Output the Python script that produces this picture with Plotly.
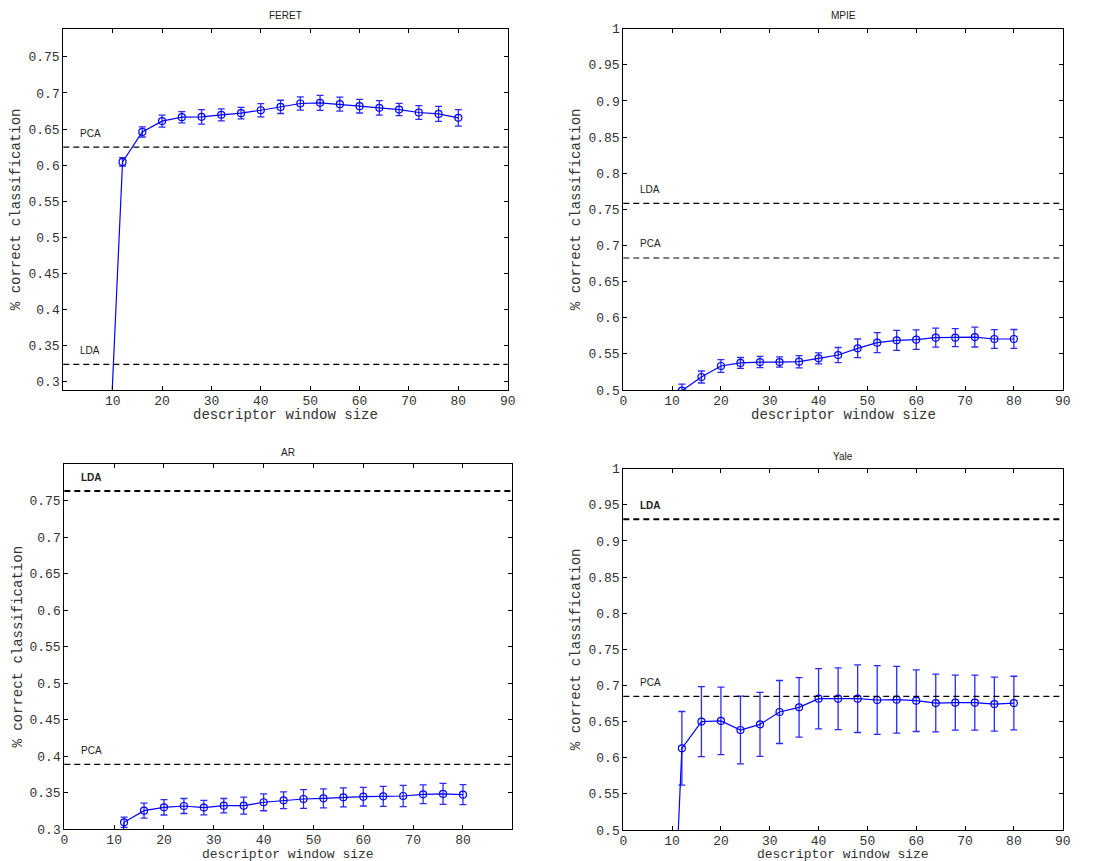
import plotly.graph_objects as go

# ---------------- data ----------------
window_sizes = [8, 12, 16, 20, 24, 28, 32, 36, 40, 44, 48, 52, 56, 60, 64, 68, 72, 76, 80]

feret_acc = [0.0, 0.6045, 0.646, 0.661, 0.6664, 0.6669, 0.6697, 0.672, 0.676, 0.6807,
             0.6854, 0.6863, 0.6844, 0.6817, 0.6794, 0.677, 0.6729, 0.671, 0.6655]
feret_err = [0.0, 0.006, 0.007, 0.0083, 0.0078, 0.010, 0.0083, 0.008, 0.0092, 0.0092,
             0.0092, 0.0104, 0.0097, 0.0095, 0.010, 0.0085, 0.0095, 0.0104, 0.0115]
feret_pca = 0.6249
feret_lda = 0.3239

mpie_acc = [0.0, 0.499, 0.518, 0.5332, 0.5374, 0.5387, 0.5387, 0.5392, 0.5438, 0.5484,
            0.5577, 0.5655, 0.5687, 0.5697, 0.5724, 0.5724, 0.5733, 0.5706, 0.5706]
mpie_err = [0.0, 0.009, 0.0083, 0.0088, 0.0076, 0.0078, 0.0071, 0.0085, 0.0076, 0.0104,
            0.0129, 0.0138, 0.0138, 0.0136, 0.0131, 0.0125, 0.0138, 0.0129, 0.0131]
mpie_pca = 0.6827
mpie_lda = 0.7583

ar_acc = [0.0, 0.3096, 0.3255, 0.3301, 0.3319, 0.3297, 0.3324, 0.3324, 0.337, 0.3397,
          0.3415, 0.3424, 0.3438, 0.3447, 0.3452, 0.3456, 0.3479, 0.3484, 0.3474]
ar_err = [0.0, 0.0071, 0.0103, 0.0105, 0.0103, 0.010, 0.0098, 0.0116, 0.0116, 0.0114,
          0.0128, 0.013, 0.013, 0.0128, 0.0137, 0.0146, 0.0128, 0.0144, 0.0137]
ar_pca = 0.389
ar_lda = 0.763

yale_acc = [0.0, 0.613, 0.650, 0.651, 0.6384, 0.6462, 0.6633, 0.6697, 0.6817, 0.6817,
            0.6817, 0.6799, 0.6803, 0.679, 0.6757, 0.6762, 0.6762, 0.6743, 0.6757]
yale_err = [0.0, 0.051, 0.0484, 0.0466, 0.047, 0.0443, 0.0436, 0.0413, 0.0417, 0.0427,
            0.0468, 0.0475, 0.0461, 0.0427, 0.040, 0.038, 0.038, 0.0374, 0.0371]
yale_pca = 0.685
yale_lda = 0.930

titles = ["FERET", "MPIE", "AR", "Yale"]
x_title = "descriptor window size"
y_title = "% correct classification"

feret_xticks = [10, 20, 30, 40, 50, 60, 70, 80, 90]
full_xticks = [0, 10, 20, 30, 40, 50, 60, 70, 80, 90]
ar_xticks = [0, 10, 20, 30, 40, 50, 60, 70, 80]
low_yticks = [0.3, 0.35, 0.4, 0.45, 0.5, 0.55, 0.6, 0.65, 0.7, 0.75]
low_yticktext = ["0.3", "0.35", "0.4", "0.45", "0.5", "0.55", "0.6", "0.65", "0.7", "0.75"]
high_yticks = [0.5, 0.55, 0.6, 0.65, 0.7, 0.75, 0.8, 0.85, 0.9, 0.95, 1.0]
high_yticktext = ["0.5", "0.55", "0.6", "0.65", "0.7", "0.75", "0.8", "0.85", "0.9", "0.95", "1"]

# ---------------- layout geometry ----------------
W, H = 1096, 861
BLUE = "#0000ff"
ERRBLUE = "#2b2bff"
TICKFONT = dict(family="Liberation Mono, Courier New, monospace", size=13, color="#333333")
LABELFONT = dict(family="Liberation Mono, Courier New, monospace", size=14, color="#333333")
LABELFONT_LOW = dict(family="Liberation Mono, Courier New, monospace", size=13, color="#333333")
SMALLFONT = dict(family="Liberation Sans, Arial, sans-serif", size=10, color="#222222")

panels = [
    dict(acc=feret_acc, err=feret_err, pca=feret_pca, lda=feret_lda,
         box=(63.3, 507.7, 28.7, 390.0), xr=[0, 90], yr=[0.2885, 0.789],
         xt=feret_xticks, yt=low_yticks, ytt=low_yticktext, bold=False, title_y=16,
         bottom=False),
    dict(acc=mpie_acc, err=mpie_err, pca=mpie_pca, lda=mpie_lda,
         box=(623.3, 1062.7, 28.7, 390.0), xr=[0, 90], yr=[0.5, 1.0],
         xt=full_xticks, yt=high_yticks, ytt=high_yticktext, bold=False, title_y=16,
         bottom=False),
    dict(acc=ar_acc, err=ar_err, pca=ar_pca, lda=ar_lda,
         box=(64.3, 512.3, 464.3, 829.3), xr=[0, 89.9], yr=[0.3, 0.7997],
         xt=ar_xticks, yt=low_yticks, ytt=low_yticktext, bold=True, title_y=452,
         bottom=True),
    dict(acc=yale_acc, err=yale_err, pca=yale_pca, lda=yale_lda,
         box=(623.3, 1062.7, 468.7, 830.0), xr=[0, 90], yr=[0.5, 1.0],
         xt=full_xticks, yt=high_yticks, ytt=high_yticktext, bold=True, title_y=456,
         bottom=True),
]

fig = go.Figure()
shapes = []
annotations = []
layout_axes = {}

for i, p in enumerate(panels):
    n = "" if i == 0 else str(i + 1)
    xa, ya = "x" + n, "y" + n
    x0, x1, y0, y1 = p["box"]
    xdom = [x0 / W, x1 / W]
    ydom = [1 - y1 / H, 1 - y0 / H]

    fig.add_trace(go.Scatter(
        x=window_sizes, y=p["acc"], xaxis=xa, yaxis=ya, mode="lines+markers",
        line=dict(color=BLUE, width=1.2),
        marker=dict(symbol="circle-open", size=7, color=BLUE, line=dict(width=1.2)),
        error_y=dict(type="data", array=p["err"], visible=True, color=ERRBLUE,
                     thickness=1.3, width=3.5),
        showlegend=False, hoverinfo="x+y",
    ))

    common = dict(showline=True, linecolor="black", linewidth=1, mirror="ticks",
                  ticks="inside", ticklen=4, tickcolor="black", tickwidth=1,
                  showgrid=False, zeroline=False, tickfont=TICKFONT, automargin=False)
    layout_axes["xaxis" + n] = dict(domain=xdom, range=p["xr"], anchor=ya,
                                    tickmode="array", tickvals=p["xt"],
                                    ticktext=[str(v) for v in p["xt"]],
                                    ticklabelstandoff=-2, **common)
    layout_axes["yaxis" + n] = dict(domain=ydom, range=p["yr"], anchor=xa,
                                    tickmode="array", tickvals=p["yt"],
                                    ticktext=p["ytt"], **common)

    # baseline dashed lines
    for val, lw in ((p["pca"], 1.2), (p["lda"], 2.0 if p["bold"] else 1.2)):
        shapes.append(dict(type="line", xref=xa + " domain", yref=ya,
                           x0=0, x1=1, y0=val, y1=val,
                           line=dict(color="black", width=lw, dash="6px,4px")))

    # method labels
    for val, txt, bold in ((p["pca"], "PCA", False), (p["lda"], "LDA", p["bold"])):
        annotations.append(dict(xref=xa, yref=ya, x=3, y=val, yshift=14,
                                text=("<b>%s</b>" % txt) if bold else txt,
                                showarrow=False, xanchor="left", yanchor="middle",
                                font=SMALLFONT))

    # panel title
    annotations.append(dict(xref="paper", yref="paper", x=(x0 + x1) / 2 / W,
                            y=1 - p["title_y"] / H, text=titles[i], showarrow=False,
                            xanchor="center", yanchor="middle", font=SMALLFONT))
    # axis titles
    if p["bottom"]:
        ty, tf = 854.0, LABELFONT_LOW
    else:
        ty, tf = y1 + 25.5, LABELFONT
    annotations.append(dict(xref="paper", yref="paper", x=(x0 + x1) / 2 / W,
                            y=1 - ty / H, text=x_title, showarrow=False,
                            xanchor="center", yanchor="middle", font=tf))
    annotations.append(dict(xref="paper", yref="paper", x=(x0 - 46.5) / W,
                            y=1 - (y0 + y1) / 2 / H, text=y_title, showarrow=False,
                            textangle=-90, xanchor="center", yanchor="middle",
                            font=LABELFONT))

fig.update_layout(
    width=W, height=H,
    margin=dict(l=0, r=0, t=0, b=0),
    paper_bgcolor="white", plot_bgcolor="white",
    shapes=shapes, annotations=annotations,
    showlegend=False,
    **layout_axes,
)

fig.write_html("out.html",
               config={"displayModeBar": False},
               post_script="document.body.style.margin='0px';"
                           "document.body.style.overflow='hidden';")
